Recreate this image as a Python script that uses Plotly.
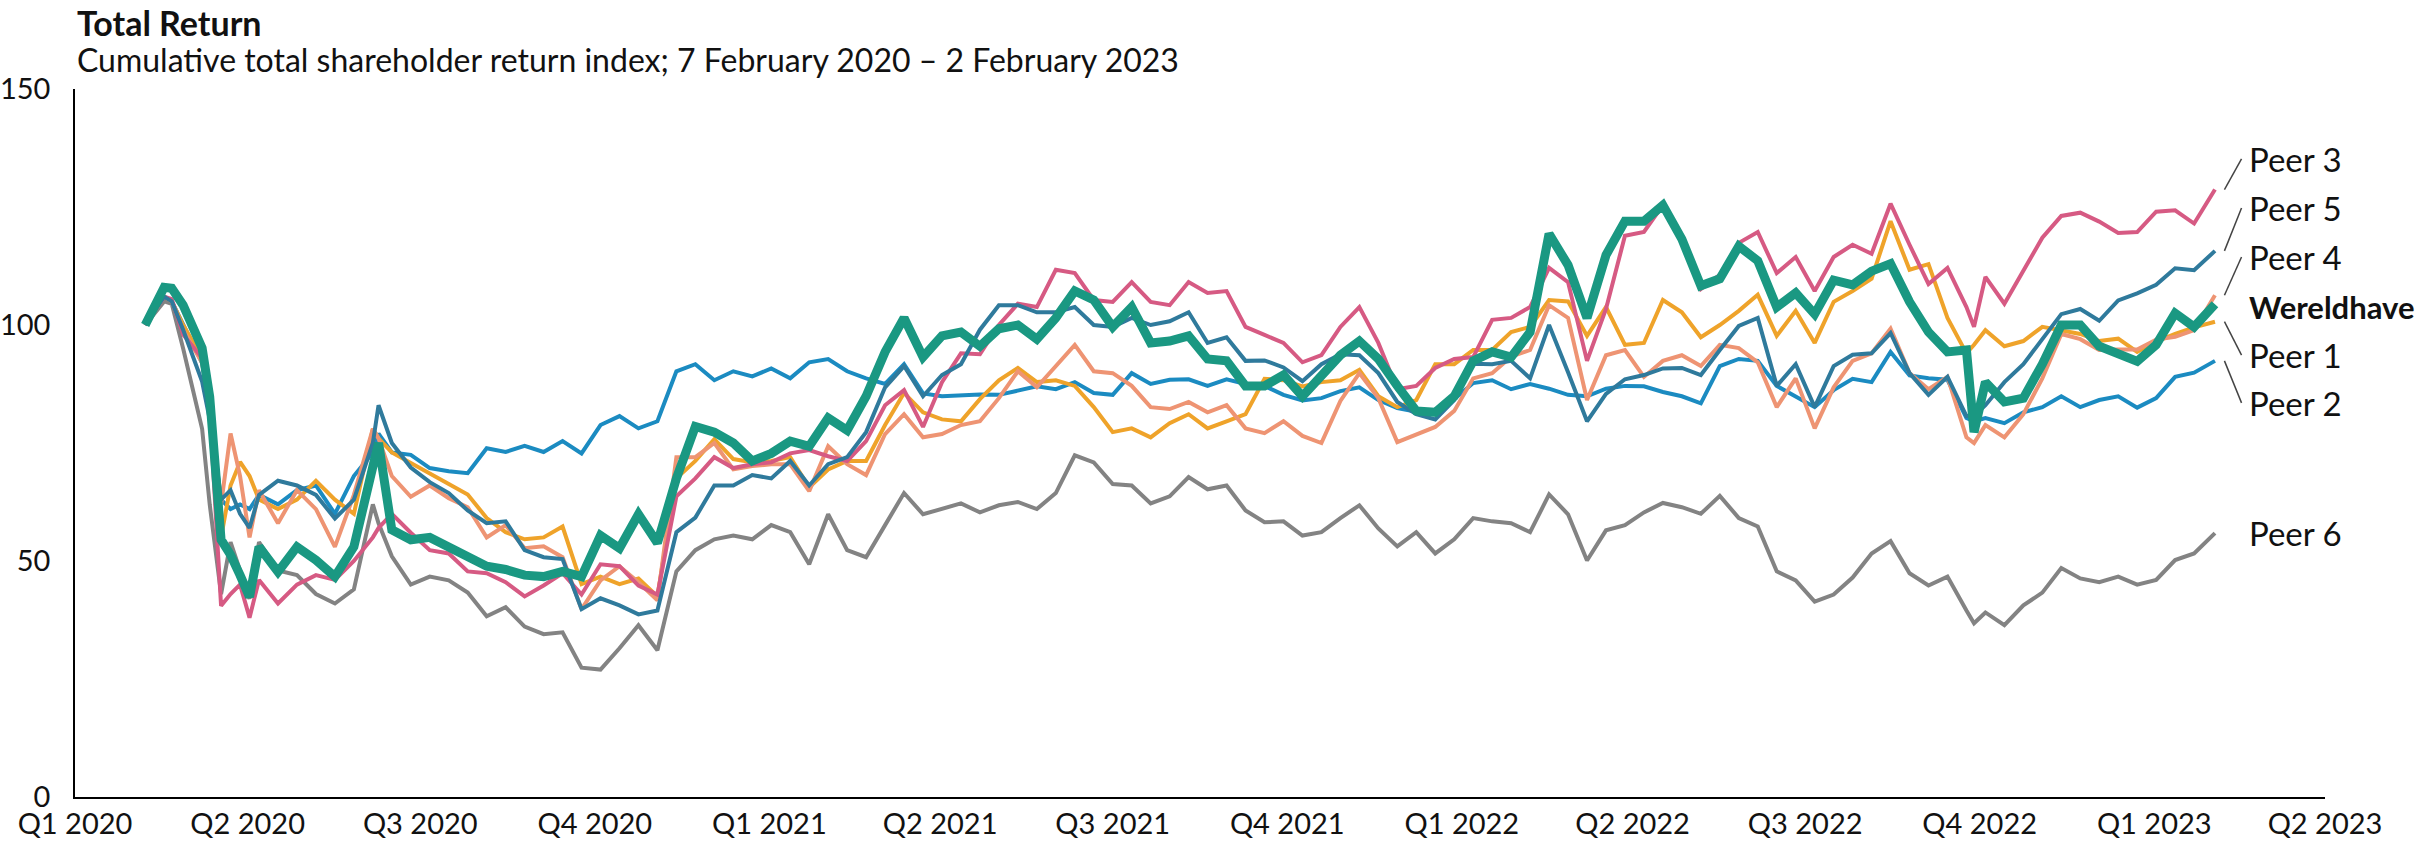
import plotly.graph_objects as go

dates = [
    "2020-02-07","2020-02-17","2020-02-21","2020-02-27","2020-03-08","2020-03-12","2020-03-18","2020-03-23","2020-03-28","2020-04-02",
    "2020-04-07","2020-04-17","2020-04-27","2020-05-07","2020-05-17","2020-05-27","2020-06-06","2020-06-09","2020-06-16","2020-06-26",
    "2020-07-06","2020-07-16","2020-07-26","2020-08-05","2020-08-15","2020-08-25","2020-09-04","2020-09-14","2020-09-24","2020-10-04",
    "2020-10-14","2020-10-24","2020-11-03","2020-11-13","2020-11-23","2020-12-03","2020-12-13","2020-12-23",
    "2021-01-02","2021-01-12","2021-01-22","2021-02-01","2021-02-11","2021-02-21","2021-03-03","2021-03-13","2021-03-23","2021-04-02",
    "2021-04-12","2021-04-22","2021-05-02","2021-05-12","2021-05-22","2021-06-01","2021-06-11","2021-06-21","2021-07-01","2021-07-11",
    "2021-07-21","2021-07-31","2021-08-10","2021-08-20","2021-08-30","2021-09-09","2021-09-19","2021-09-29","2021-10-09","2021-10-19",
    "2021-10-29","2021-11-08","2021-11-18","2021-11-28","2021-12-08","2021-12-18","2021-12-28",
    "2022-01-07","2022-01-17","2022-01-27","2022-02-06","2022-02-16","2022-02-26","2022-03-08","2022-03-18","2022-03-28","2022-04-07",
    "2022-04-17","2022-04-27","2022-05-07","2022-05-17","2022-05-27","2022-06-06","2022-06-16","2022-06-26","2022-07-06","2022-07-16",
    "2022-07-26","2022-08-05","2022-08-15","2022-08-25","2022-09-04","2022-09-14","2022-09-24","2022-09-28","2022-10-04","2022-10-14",
    "2022-10-24","2022-11-03","2022-11-13","2022-11-23","2022-12-03","2022-12-13","2022-12-23",
    "2023-01-02","2023-01-12","2023-01-22","2023-02-02",
]

wereldhave = [
    100, 108, 107.8, 104.2, 95.1, 84.8, 54.5, 51.3, 47, 42.4, 53, 47.7, 53, 50.2, 46.7, 53, 70, 75, 56.6, 54.5,
    55, 53.1, 50.8, 48.9, 48.2, 47, 46.7, 47.8, 46.7, 55.4, 52.7, 59.9, 53.8, 67.5, 78.5, 77.3, 75, 71.2,
    72.8, 75.4, 74.3, 80.3, 77.7, 84.9, 94.3, 101.5, 93.2, 97.7, 98.5, 95.5, 99.2, 100, 97, 101.5, 107.2, 105.3, 99.6, 103.8,
    96.2, 96.6, 97.7, 92.8, 92.4, 87.1, 87.1, 89.4, 84.9, 89, 93.6, 96.6, 92.8, 87.1, 81.8, 81.5, 84.9,
    92.4, 94.3, 93.2, 98.5, 119.3, 112.7, 101.5, 114.8, 122, 122, 125.4, 118.2, 108.3, 109.8, 116.7, 113.6, 103.8, 106.8, 102.3, 109.5,
    108.5, 111.4, 113, 104.9, 98.5, 94.3, 94.7, 77.3, 87.9, 83.7, 84.5, 91.7, 100, 100, 95.5, 93.8, 92.3,
    95.8, 102.5, 99.6, 104.4,
]

peer1 = [
    100, 106, 105, 100, 93, 84, 55, 66, 71, 68, 63, 61, 63, 67, 63, 60, 78, 76, 73, 70.7,
    68.6, 66.3, 64.1, 59.1, 56.1, 54.6, 55, 57.3, 45.1, 46.7, 45.1, 46.3, 42.5, 67.5, 71.2, 75.8, 71.6, 70.9,
    71.2, 72, 65.6, 69.4, 71.2, 71.2, 78.8, 85.6, 81.5, 80, 79.6, 84.3, 88.3, 90.9, 87.9, 88.3, 87.1, 82.6, 77.3, 78.1,
    76.2, 79.2, 81.1, 78.1, 79.6, 81.1, 88.6, 88.3, 87, 87.9, 88.3, 90.5, 84.9, 82.6, 84.1, 91.7, 91.7,
    94.7, 94.7, 98.5, 99.6, 105.3, 105, 97.7, 103.8, 95.8, 96.2, 105.3, 102.7, 97.4, 100, 103, 106.4, 97.7, 103, 96.2, 104.9,
    107.2, 109.8, 122, 111.7, 112.9, 101.5, 94, 95.8, 98.9, 95.5, 96.6, 99.6, 98.9, 98.1, 96.6, 97.1, 94.3,
    96.5, 98.1, 99.5, 100.7,
]

peer2 = [
    100, 106, 105, 100, 92, 82, 63, 61, 62, 61, 64, 62, 65, 66, 60, 68, 73, 77, 73, 72.5,
    69.7, 69, 68.6, 73.9, 73.1, 74.4, 73.1, 75.4, 72.8, 78.8, 80.7, 78.1, 79.6, 90.2, 91.7, 88.3, 90.2, 89.1,
    90.8, 88.7, 92.1, 92.8, 90.2, 88.7, 87.5, 91.7, 85.5, 84.9, 85.2, 85.3, 85.2, 86, 87, 86.4, 87.9, 85.6, 85.2, 89.8,
    87.5, 88.4, 88.5, 87.1, 88.5, 87.5, 87.1, 85.2, 84, 84.5, 86, 86.8, 84.1, 82.4, 81.6, 82, 84.3,
    87.7, 88.3, 86.4, 87.5, 86.5, 85.2, 84.9, 86.5, 87.1, 87, 85.8, 84.9, 83.4, 91.3, 92.8, 92.4, 87.1, 84.9, 82.6, 86.2,
    88.6, 87.9, 94.3, 89.3, 88.7, 88.4, 80.3, 79.6, 80.3, 79.2, 81.5, 82.6, 84.9, 82.6, 84.1, 84.9, 82.5,
    84.5, 89, 89.9, 92.4,
]

peer3 = [
    100, 106, 105.5, 98, 93, 82, 40.5, 43, 45, 38, 46, 41, 45, 47, 46, 50, 55, 57, 60, 56,
    52.3, 51.6, 47.8, 47.4, 45.5, 42.5, 44.8, 47.4, 42.9, 49.3, 48.9, 44.8, 42.9, 63.7, 67.5, 72, 69.7, 70.5,
    70.9, 72.8, 73.5, 72.2, 71.2, 75.4, 83, 86.2, 78.4, 87.9, 94, 93.8, 100, 104.5, 103.8, 111.7, 111, 105.3, 104.9, 109.1,
    104.9, 104.2, 109.1, 106.8, 107.2, 99.6, 97.9, 96.2, 92.1, 93.6, 99.6, 103.8, 96.2, 86.4, 87.1, 90.9, 92.8,
    93.2, 101.1, 101.5, 103.8, 112.1, 109.1, 92.4, 103.4, 118.9, 119.7, 125.4, 118.2, 107.6, 110.6, 117.4, 119.7, 111, 114.4, 107.2, 114.4,
    117, 115.1, 125.7, 117, 108.7, 112.1, 103.8, 99.6, 110.2, 104.5, 111.3, 118.5, 123.1, 123.8, 121.9, 119.5, 119.7,
    124, 124.3, 121.5, 128.7,
]

peer4 = [
    100, 106, 105, 99, 92, 83, 62, 77, 68, 55, 65, 58, 65, 61, 53, 64, 78, 76, 68, 63.6,
    66, 63.3, 61.4, 55, 57.6, 52.7, 53.1, 50.8, 39.8, 45.9, 48.9, 45.5, 41.7, 72, 72, 75, 69.4, 70.1,
    70.5, 70.5, 64.8, 74.3, 70.5, 68.2, 76.9, 81.1, 76.2, 76.9, 78.8, 79.6, 84.5, 90.2, 86.8, 91.3, 95.8, 90.2, 89.8, 87.1,
    82.6, 82.2, 83.7, 81.5, 83, 78.1, 77.1, 79.6, 76.5, 75, 83.9, 89.8, 84.5, 75.2, 76.9, 78.4, 81.8,
    88.7, 89.8, 93.3, 94.7, 104.2, 101.5, 84.1, 93.6, 94.7, 89, 92.4, 93.6, 91.3, 95.8, 95.1, 92.1, 82.6, 88.7, 78.1, 86.8,
    92.4, 94, 99.2, 89.8, 86.4, 89, 76.2, 75, 78.8, 76.2, 81.1, 88.7, 98.1, 97, 94.7, 94.8, 94.8,
    96.9, 97.5, 98.9, 106.3,
]

peer5 = [
    100, 106, 105, 99, 88, 80, 63, 65, 60, 57, 64, 67, 66, 64, 59, 63, 75, 83, 75, 69.8,
    66.7, 64.4, 60.7, 58, 58.4, 52.3, 50.8, 50.4, 39.8, 42.1, 40.6, 38.7, 39.5, 56.1, 59.2, 66, 66, 68.2,
    67.5, 71.2, 66, 70.5, 72, 77.3, 86.8, 91.3, 84.9, 89.4, 91.7, 99, 104.2, 104.2, 102.7, 102.7, 103.8, 100, 99.6, 101.5,
    100, 100.8, 102.7, 96.2, 97.4, 92.4, 92.5, 91, 88.1, 91.7, 93.8, 93.6, 89.8, 83.7, 81.1, 80, 84.1,
    91.8, 91.7, 92.4, 88.7, 100, 90, 79.6, 85.4, 88.5, 89.4, 90.8, 90.9, 89.4, 94.7, 99.8, 101.5, 87.1, 91.7, 82.6, 91.3,
    93.7, 94, 98.3, 89.8, 85.2, 89, 80.7, 80.7, 83, 87.9, 91.7, 97, 102.3, 103.4, 100.9, 105.2, 106.7,
    108.5, 112, 111.6, 115.7,
]

peer6 = [
    100, 105, 104.5, 95, 78, 62, 43, 54, 48, 42, 54, 48, 47, 43, 41, 44, 62, 58, 51, 45,
    46.7, 45.9, 43.3, 38.3, 40.2, 36.1, 34.5, 34.9, 27.4, 27, 31.5, 36.4, 31.1, 47.8, 52.3, 54.6, 55.4, 54.6,
    57.6, 56.1, 49.3, 59.9, 52.3, 50.8, 57.6, 64.4, 59.9, 61, 62.2, 60.3, 61.8, 62.5, 61, 64.4, 72.4, 70.9, 66.3, 66,
    62.2, 63.7, 67.8, 65.2, 66, 60.7, 58.2, 58.4, 55.4, 56.1, 59.1, 61.8, 56.9, 53.1, 56.1, 51.6, 54.6,
    59.1, 58.4, 58, 56.1, 64.1, 59.9, 50.1, 56.5, 57.6, 60.3, 62.3, 61.4, 60, 63.8, 59.1, 57.3, 47.8, 45.9, 41.4, 42.9,
    46.5, 51.6, 54.2, 47.4, 44.8, 46.7, 39.5, 36.8, 39.1, 36.4, 40.6, 43.3, 48.5, 46.3, 45.5, 46.7, 45,
    46, 50.2, 51.6, 55.9,
]

quarter_ticks = ["2020-01-01","2020-04-01","2020-07-01","2020-10-01","2021-01-01","2021-04-01","2021-07-01",
                 "2021-10-01","2022-01-01","2022-04-01","2022-07-01","2022-10-01","2023-01-01","2023-04-01"]
quarter_labels = ["Q1 2020","Q2 2020","Q3 2020","Q4 2020","Q1 2021","Q2 2021","Q3 2021",
                  "Q4 2021","Q1 2022","Q2 2022","Q3 2022","Q4 2022","Q1 2023","Q2 2023"]
y_ticks = [0, 50, 100, 150]

FONT = "Lato, 'Open Sans', Arial, sans-serif"

series = [
    ("Peer 6", peer6, "#838383", 4),
    ("Peer 2", peer2, "#1b8bc1", 4),
    ("Peer 1", peer1, "#efa32a", 4),
    ("Peer 4", peer4, "#ee9473", 4),
    ("Peer 3", peer3, "#d65a83", 4),
    ("Peer 5", peer5, "#2f7a9c", 4),
    ("Wereldhave", wereldhave, "#1a9882", 9),
]

fig = go.Figure()
for name, vals, color, w in series:
    fig.add_trace(go.Scatter(x=dates, y=vals, mode="lines", name=name,
                             line=dict(color=color, width=w), showlegend=False,
                             hoverinfo="skip"))

# end labels (label vertical positions are layout choices)
label_pos = {"Peer 3": 135.2, "Peer 5": 124.8, "Peer 4": 114.4, "Wereldhave": 103.8,
             "Peer 1": 93.6, "Peer 2": 83.5, "Peer 6": 55.9}
with_leader = ["Peer 3", "Peer 5", "Peer 4", "Peer 1", "Peer 2"]
last_vals = {name: vals[-1] for name, vals, _, _ in series}

annotations = []
shapes = []
for name, ly in label_pos.items():
    bold = name == "Wereldhave"
    txt = "<b>Wereldhave</b>" if bold else name
    annotations.append(dict(x="2023-02-19", y=ly, xref="x", yref="y", text=txt, showarrow=False,
                            xanchor="left", yanchor="middle",
                            font=dict(family=FONT, size=31 if bold else 33, color="#111111")))
    if name in with_leader:
        shapes.append(dict(type="line", xref="x", yref="y", x0="2023-02-07", y0=last_vals[name],
                           x1="2023-02-16", y1=ly, line=dict(color="#444444", width=1.5)))

annotations.append(dict(x=0, y=1.0946, xref="paper", yref="paper", text="<b>Total Return</b>",
                        showarrow=False, xanchor="left", yanchor="middle",
                        font=dict(family=FONT, size=34, color="#111111")))
annotations.append(dict(x=0, y=1.041, xref="paper", yref="paper",
                        text="Cumulative total shareholder return index; 7 February 2020 \u2013 2 February 2023",
                        showarrow=False, xanchor="left", yanchor="middle",
                        font=dict(family=FONT, size=32, color="#111111")))

fig.update_layout(
    width=2417, height=845,
    margin=dict(l=75, r=92, t=89, b=48, autoexpand=False),
    plot_bgcolor="white", paper_bgcolor="white",
    font=dict(family=FONT, size=30, color="#111111"),
    annotations=annotations, shapes=shapes,
    xaxis=dict(type="date", range=["2020-01-01", "2023-04-01"], tickvals=quarter_ticks, ticktext=quarter_labels,
               showgrid=False, zeroline=False, showline=True, linecolor="black", linewidth=2,
               ticks="", ticklabelstandoff=0, automargin=False,
               tickfont=dict(family=FONT, size=29, color="#111111")),
    yaxis=dict(range=[0, 150], tickvals=y_ticks, showgrid=False, zeroline=False, showline=True,
               linecolor="black", linewidth=1.5, ticks="", ticklabelstandoff=17, automargin=False,
               tickfont=dict(family=FONT, size=29, color="#111111")),
)

fig.write_html("out.html", config={"displayModeBar": False},
               post_script="document.body.style.margin='0';document.body.style.overflow='hidden';")
